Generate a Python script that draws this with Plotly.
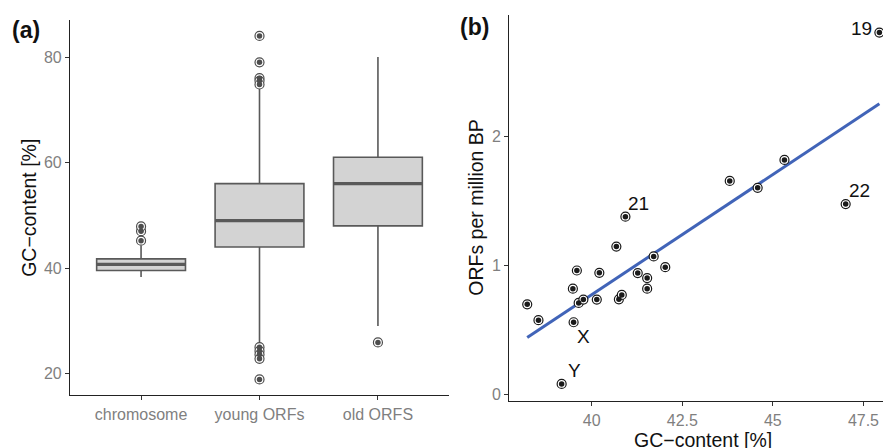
import numpy as np
import plotly.graph_objects as go

# ---------------- data: panel (a) ----------------
groups = ["chromosome", "young ORFs", "old ORFS"]
q1 = [39.55, 44.0, 48.0]
median = [40.7, 49.0, 56.0]
q3 = [41.75, 56.0, 61.0]
lowerfence = [38.3, 25.9, 29.0]
upperfence = [44.3, 74.3, 80.0]
outlier_group = [1, 1, 1, 2, 2, 2, 2, 2, 2, 2, 2, 2, 2, 3]
outlier_value = [45.2, 47.0, 47.9, 84.0, 79.0, 76.0, 75.5, 74.8,
                 25.0, 24.3, 23.6, 22.8, 18.9, 25.9]

# ---------------- data: panel (b) ----------------
chrom_gc = [38.22, 38.53, 39.50, 39.17, 39.48, 39.59, 39.64, 39.77, 40.14, 40.21,
            40.68, 40.75, 40.83, 40.93, 41.27, 41.53, 41.53, 41.71, 42.03, 43.81,
            44.58, 45.32, 47.01, 47.94]
orfs_per_mbp = [0.698, 0.575, 0.559, 0.080, 0.820, 0.961, 0.709, 0.735, 0.735, 0.943,
                1.147, 0.737, 0.771, 1.379, 0.941, 0.902, 0.820, 1.070, 0.987, 1.657,
                1.603, 1.820, 1.477, 2.809]
label_text = ["19", "22", "21", "X", "Y"]
label_x = [47.46, 47.38, 41.29, 39.77, 39.52]
label_y = [2.839, 1.580, 1.485, 0.448, 0.186]

W, H = 883, 448
BOX_W = 0.75
box_line = "#595959"
pt_a = "#4D4D4D"
pt_b = "#1A1A1A"
tick_col = "#7F7F7F"
axis_col = "#222222"
FONT = "Liberation Sans, Arial, sans-serif"

def px_x(p):
    return p / W

def px_y(p):
    return (H - p) / H

fig = go.Figure()

positions = list(range(1, len(groups) + 1))
for i, pos in enumerate(positions):
    fig.add_trace(go.Box(
        x=[pos], q1=[q1[i]], median=[median[i]], q3=[q3[i]],
        lowerfence=[lowerfence[i]], upperfence=[upperfence[i]],
        width=BOX_W, whiskerwidth=0, fillcolor="#D3D3D3",
        line=dict(color=box_line, width=1.6), boxpoints=False,
        xaxis="x", yaxis="y", showlegend=False, hoverinfo="skip"))
    fig.add_trace(go.Scatter(
        x=[pos - BOX_W / 2, pos + BOX_W / 2], y=[median[i], median[i]],
        mode="lines", line=dict(color=box_line, width=3.2),
        xaxis="x", yaxis="y", showlegend=False, hoverinfo="skip"))


def add_points(x, y, color, xa, ya):
    # outer ring
    fig.add_trace(go.Scatter(
        x=x, y=y, mode="markers",
        marker=dict(symbol="circle", size=9, color="white",
                    line=dict(width=1.2, color=color)),
        xaxis=xa, yaxis=ya, showlegend=False, hoverinfo="skip"))
    # dark core
    fig.add_trace(go.Scatter(
        x=x, y=y, mode="markers",
        marker=dict(symbol="circle", size=5.5, color=color, line=dict(width=0)),
        xaxis=xa, yaxis=ya, showlegend=False, hoverinfo="skip"))


add_points(outlier_group, outlier_value, pt_a, "x", "y")

# regression line (lm) from data
coef = np.polyfit(chrom_gc, orfs_per_mbp, 1)
fx = np.array([min(chrom_gc), max(chrom_gc)])
fig.add_trace(go.Scatter(
    x=fx, y=np.polyval(coef, fx), mode="lines",
    line=dict(color="#4164B8", width=3),
    xaxis="x2", yaxis="y2", showlegend=False, hoverinfo="skip"))

add_points(chrom_gc, orfs_per_mbp, pt_b, "x2", "y2")

axis_common = dict(showline=True, linecolor=axis_col, linewidth=1.2, ticks="outside",
                   ticklen=4, tickwidth=1, tickcolor="#333333", showgrid=False,
                   zeroline=False, tickfont=dict(family=FONT, size=16, color=tick_col))

fig.update_layout(
    width=W, height=H, margin=dict(l=0, r=0, t=0, b=0),
    paper_bgcolor="white", plot_bgcolor="white",
    font=dict(family=FONT),
    xaxis=dict(domain=[px_x(70), px_x(449)], range=[0.4, 3.6], anchor="y",
               tickvals=positions, ticktext=groups, **axis_common),
    yaxis=dict(domain=[px_y(397), px_y(20)], range=[15.9, 87.04], anchor="x",
               tickvals=[20, 40, 60, 80], **axis_common),
    xaxis2=dict(domain=[px_x(509.3), 1.0], range=[37.725, 48.04], anchor="y2",
                tickvals=[40, 42.5, 45, 47.5], ticktext=["40", "42.5", "45", "47.5"],
                ticklabelstandoff=1, **axis_common),
    yaxis2=dict(domain=[px_y(402.3), px_y(15)], range=[-0.0487, 2.946], anchor="x2",
                tickvals=[0, 1, 2], **axis_common),
)

ann = []
for t, x, y in zip(label_text, label_x, label_y):
    ann.append(dict(text=t, x=x, y=y, xref="x2", yref="y2", showarrow=False,
                    xanchor="center", yanchor="middle",
                    font=dict(family=FONT, size=19, color="#111111")))

title_font = dict(family=FONT, size=19.5, color="#111111")
ann += [
    dict(text="GC\u2212content [%]", x=px_x(28.3), y=px_y(208.5), xref="paper", yref="paper",
         showarrow=False, textangle=-90, xanchor="center", yanchor="middle", font=title_font),
    dict(text="ORFs per million BP", x=px_x(476), y=px_y(208.7), xref="paper", yref="paper",
         showarrow=False, textangle=-90, xanchor="center", yanchor="middle", font=title_font),
    dict(text="GC\u2212content [%]", x=px_x(703), y=px_y(448), xref="paper", yref="paper",
         showarrow=False, xanchor="center", yanchor="bottom", yshift=-7, font=title_font),
    dict(text="<b>(a)</b>", x=px_x(26), y=px_y(30.5), xref="paper", yref="paper",
         showarrow=False, xanchor="center", yanchor="middle",
         font=dict(family=FONT, size=23, color="#111111")),
    dict(text="<b>(b)</b>", x=px_x(474.7), y=px_y(26.7), xref="paper", yref="paper",
         showarrow=False, xanchor="center", yanchor="middle",
         font=dict(family=FONT, size=23, color="#111111")),
]
fig.update_layout(annotations=ann)

fig.write_html("out.html")
